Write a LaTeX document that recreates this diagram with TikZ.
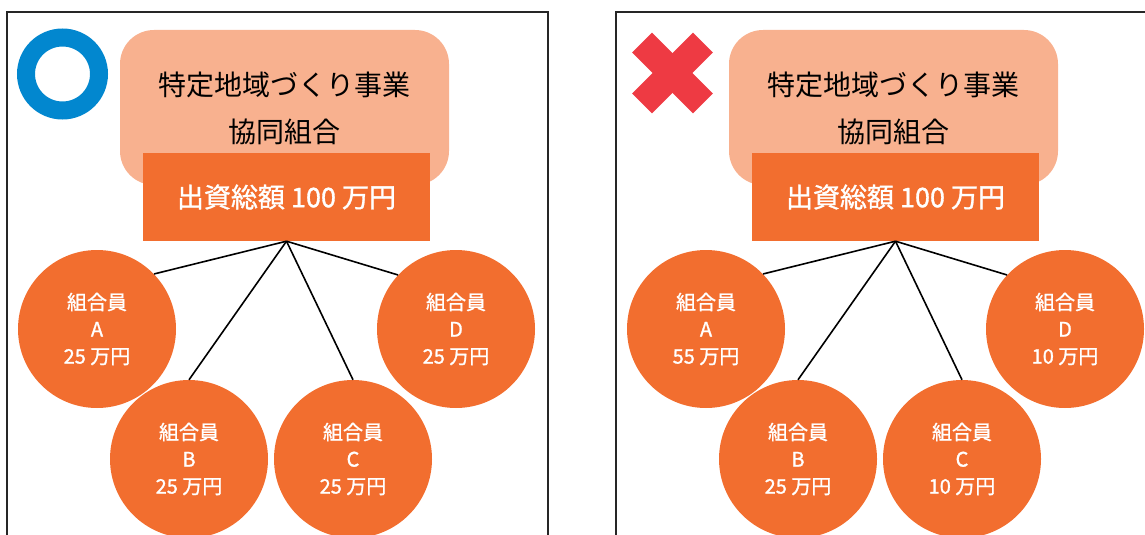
\documentclass[tikz,border=0pt]{standalone}
\usepackage{fontspec}
\setmainfont{Noto Sans CJK JP}
\newfontfamily\capfont[FakeBold=1.2]{Noto Sans CJK JP}
\definecolor{peach}{HTML}{F8B18F}
\definecolor{orng}{HTML}{F26E2F}
\definecolor{ringblue}{HTML}{0287CF}
\definecolor{xred}{HTML}{EE3A43}
\newcommand{\coopPanel}[5]{%
  \node[orgbox] (#1org) at (284.5,107.5) {};
  \node[orgtxt] (#1orgt) at (284.5,108.5) {特定地域づくり事業\\協同組合};
  \node[capbox] (#1cap) at (286.5,197) {出資総額 100 万円};
  \node[member] (#1A) at (97,329) {組合員\\A\\#2 万円};
  \node[member] (#1B) at (189,459) {組合員\\B\\#3 万円};
  \node[member] (#1C) at (353,459) {組合員\\C\\#4 万円};
  \node[member] (#1D) at (456,329) {組合員\\D\\#5 万円};
  \draw[link] (#1cap.south) -- (#1A.44);
  \draw[link] (#1cap.south) -- (#1B.north);
  \draw[link] (#1cap.south) -- (#1C.north);
  \draw[link] (#1cap.south) -- (#1D.137);
}
\begin{document}
\begin{tikzpicture}[x=1pt,y=-1pt,
  panel/.style={draw=black!85,line width=1.4pt},
  orgbox/.style={fill=peach,rounded corners=34pt,minimum width=329pt,minimum height=155pt,inner sep=0pt},
  orgtxt/.style={align=center,font=\fontsize{28pt}{47pt}\selectfont,text=black,inner sep=0pt},
  capbox/.style={fill=orng,minimum width=287pt,minimum height=88pt,inner sep=0pt,text=white,font=\capfont\fontsize{27pt}{30pt}\selectfont},
  member/.style={circle,fill=orng,minimum size=158pt,inner sep=0pt,text=white,align=center,font=\capfont\fontsize{20pt}{27pt}\selectfont},
  link/.style={draw=black,line width=1.6pt}]
\useasboundingbox (0,0) rectangle (1145,535);
% panel frames
\draw[panel] (7,535) -- (7,12) -- (548,12) -- (548,535);
\draw[panel] (616,535) -- (616,12) -- (1145,12);
% blue ring (correct)
\draw[ringblue,line width=18pt] (62.5,74) circle[radius=36.5pt];
% red cross (wrong)
\begin{scope}[shift={(672.5,73)}]
  \fill[xred,rotate=45] (-43,-14) rectangle (43,14);
  \fill[xred,rotate=-45] (-43,-14) rectangle (43,14);
\end{scope}
% left panel
\coopPanel{L}{25}{25}{25}{25}
% right panel
\begin{scope}[xshift=609pt]
\coopPanel{R}{55}{25}{10}{10}
\end{scope}
\end{tikzpicture}
\end{document}
